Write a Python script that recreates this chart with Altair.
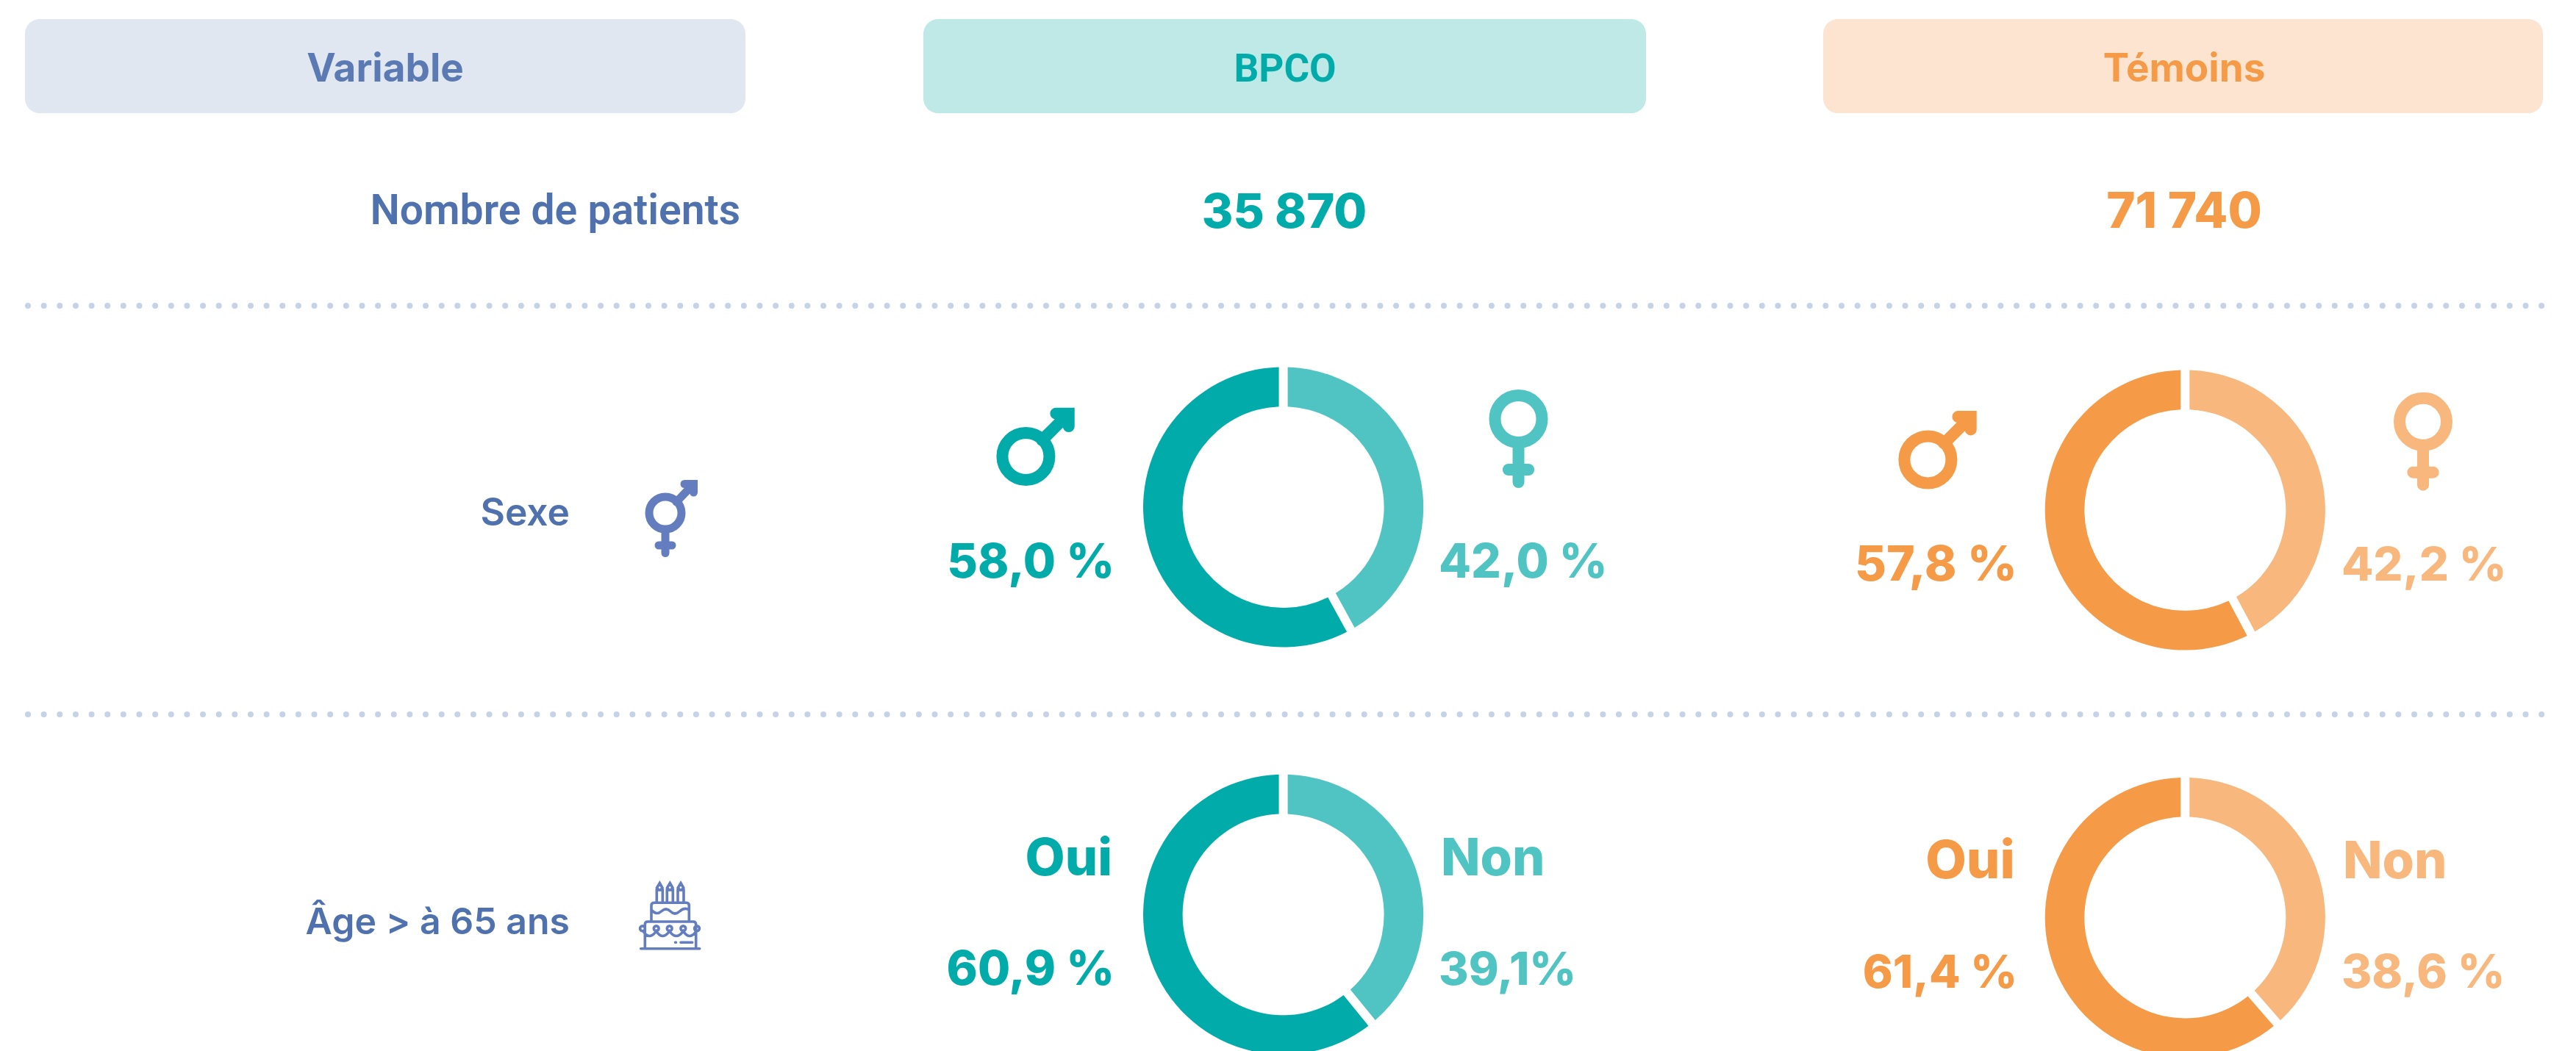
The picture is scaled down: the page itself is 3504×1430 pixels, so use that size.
import math
import altair as alt
import pandas as pd

# ---- values ----
COLUMNS = ["Variable", "BPCO", "Témoins"]
ROW_LABELS = ["Nombre de patients", "Sexe", "Âge > à 65 ans"]
PATIENTS = ["35 870", "71 740"]
SEX_PARTS = {"BPCO": [42.0, 58.0], "Témoins": [42.2, 57.8]}
AGE_PARTS = {"BPCO": [39.1, 60.9], "Témoins": [38.6, 61.4]}
SEX_LABELS = {"BPCO": ["42,0 %", "58,0 %"], "Témoins": ["42,2 %", "57,8 %"]}
AGE_LABELS = {"BPCO": ["39,1%", "60,9 %"], "Témoins": ["38,6 %", "61,4 %"]}
AGE_WORDS = ["Non", "Oui"]

# ---- styling ----
BLUE_TEXT = "#4F71AD"
BLUE_HEAD = "#5B7AB4"
ICON_BLUE = "#647DBE"
BLUE_BG = "#E1E7F1"
DOT = "#C6D3E7"
TEAL, TEAL_LIGHT, TEAL_BG = "#00ABA9", "#50C4C3", "#BFE9E7"
ORANGE, ORANGE_LIGHT, ORANGE_BG = "#F59A46", "#F7B77D", "#FCE4D1"

HEAD_FONT = "Inter"
NARROW_FONT = "Roboto"
NUM_FONT = "Inter"
W, H = 3504, 1430
M = 8


def px(v):
    return v - M


layers = []


def text(label, x, y, color, size, align="center", font=NUM_FONT, weight=800):
    layers.append(
        alt.Chart(pd.DataFrame({"label": [label]}))
        .mark_text(font=font, fontSize=size, fontWeight=weight, align=align,
                   baseline="alphabetic", color=color)
        .encode(text="label:N", x=alt.value(px(x)), y=alt.value(px(y)))
    )


def header(x0, x1, fill, label, color, tx, size, font=HEAD_FONT):
    layers.append(
        alt.Chart(pd.DataFrame({"label": [label]}))
        .mark_rect(color=fill, cornerRadius=20)
        .encode(x=alt.value(px(x0)), x2=alt.value(px(x1)),
                y=alt.value(px(26)), y2=alt.value(px(154)))
    )
    text(label, tx, 110.7, color, size, font=font, weight=700)


def dotted(y):
    layers.append(
        alt.Chart(pd.DataFrame({"row": [y]}))
        .mark_rule(color=DOT, strokeWidth=8, strokeCap="round", strokeDash=[0.01, 21.63])
        .encode(x=alt.value(px(38)), x2=alt.value(px(3460)), y=alt.value(px(y)))
    )


def donut(group, parts, cx, cy):
    start, rows = 0.0, []
    for i, v in enumerate(parts):
        rows.append({"part": f"{group} {i}", "start": start, "end": start + v})
        start += v
    layers.append(
        alt.Chart(pd.DataFrame(rows))
        .mark_arc(innerRadius=137, outerRadius=190.6, padAngle=0.0512)
        .encode(
            theta=alt.Theta("start:Q", scale=alt.Scale(domain=[0, 100], range=[0, 2 * math.pi])),
            theta2="end:Q",
            color=alt.Color(
                "part:N",
                legend=None,
                scale=alt.Scale(
                    domain=["BPCO 0", "BPCO 1", "Témoins 0", "Témoins 1"],
                    range=[TEAL_LIGHT, TEAL, ORANGE_LIGHT, ORANGE],
                ),
            ),
            x=alt.value(px(cx)),
            y=alt.value(px(cy)),
        )
    )


def ring(r, cx=0.0, cy=0.0):
    return (f"M{cx + r},{cy}A{r},{r} 0 1,0 {cx - r},{cy}"
            f"A{r},{r} 0 1,0 {cx + r},{cy}Z")


MALE = ring(32) + "M22,-22L58.3,-58.3M41,-58.3H58.3V-41"
FEMALE = ring(32) + "M0,32V86M-13.6,69H13.6"
BOTH = (ring(22) + "M15,-15L38.5,-39.5M26,-39.5H38.5V-28"
        "M0,22V54.5M-9,44H9")
CAKE = (
    "M21.7,110.7H101.7"
    "M27.3,110.7V78Q27.3,74 31,74H93Q96.7,74 96.7,78V110.7"
    "M36,74V52Q36,48.3 40,48.3H83.3Q87.3,48.3 87.3,52V74"
    "M36,58Q43,66 49.5,60T62,60T74.5,60T87.3,58"
    + ring(3.4, 24, 83.3) + ring(3.4, 42.7, 83.3) + ring(3.4, 60.7, 83.3)
    + ring(3.4, 79.3, 83.3) + ring(3.4, 98, 83.3)
    + "M25,87Q33,100 42.7,87Q51,100 60.7,87Q70,100 79.3,87Q88,100 97,87"
    + "M43.3,48.3V31H51.3V48.3M57.3,48.3V31H65.3V48.3M72,48.3V31H80V48.3"
    + "M47.3,21.5L51,28Q47.3,34 43.5,28ZM61.3,21.5L65,28Q61.3,34 57.5,28Z"
    + "M76,21.5L79.7,28Q76,34 72.2,28Z"
    + "M68.5,102.3H69.5M76,102.3H91.7"
)


def icon(path, x, y, color, width):
    layers.append(
        alt.Chart(pd.DataFrame({"icon": [0]}))
        .mark_point(shape=path, size=4, filled=False, stroke=color, strokeWidth=width,
                    strokeCap="round", strokeJoin="miter", opacity=1)
        .encode(x=alt.value(px(x)), y=alt.value(px(y)))
    )


# headers
header(34, 1014, BLUE_BG, COLUMNS[0], BLUE_HEAD, 524, 53)
header(1256, 2239, TEAL_BG, COLUMNS[1], TEAL, 1748, 53, NARROW_FONT)
header(2480, 3459, ORANGE_BG, COLUMNS[2], ORANGE, 2971, 53)

# row: patients
text(ROW_LABELS[0], 1007, 305, BLUE_TEXT, 57, "right", NARROW_FONT, 600)
text(PATIENTS[0], 1747, 310, TEAL, 65)
text(PATIENTS[1], 2971, 310, ORANGE, 67)
dotted(416)

# left and right anchors of the donut labels
L_B, R_B, L_T, R_T = 1516, 1957, 2744, 3185

# row: sex
text(ROW_LABELS[1], 775, 715, BLUE_TEXT, 51.5, "right", HEAD_FONT, 600)
icon(BOTH, 905, 698, ICON_BLUE, 11)
donut("BPCO", SEX_PARTS["BPCO"], 1745.6, 690)
donut("Témoins", SEX_PARTS["Témoins"], 2972.3, 694)
icon(MALE, 1395.4, 621, TEAL, 16)
icon(FEMALE, 2065.5, 570, TEAL_LIGHT, 16)
icon(MALE, 2622.4, 625.4, ORANGE, 16)
icon(FEMALE, 3296, 573.7, ORANGE_LIGHT, 16)
text(SEX_LABELS["BPCO"][1], L_B, 786, TEAL, 64, "right")
text(SEX_LABELS["BPCO"][0], R_B, 786, TEAL_LIGHT, 64, "left")
text(SEX_LABELS["Témoins"][1], L_T, 790, ORANGE, 66, "right")
text(SEX_LABELS["Témoins"][0], R_T, 790, ORANGE_LIGHT, 63, "left")
dotted(972)

# row: age
text(ROW_LABELS[2], 775, 1271, BLUE_TEXT, 50, "right", HEAD_FONT, 600)
icon(CAKE, 850, 1180, ICON_BLUE, 3.6)
donut("BPCO", AGE_PARTS["BPCO"], 1745.6, 1244.3)
donut("Témoins", AGE_PARTS["Témoins"], 2972.3, 1248.4)
text(AGE_WORDS[1], L_B - 3, 1191, TEAL, 70, "right")
text(AGE_WORDS[0], R_B + 3, 1191, TEAL_LIGHT, 70, "left")
text(AGE_LABELS["BPCO"][1], L_B, 1340, TEAL, 64, "right")
text(AGE_LABELS["BPCO"][0], R_B, 1340, TEAL_LIGHT, 62, "left")
text(AGE_WORDS[1], L_T - 3, 1195, ORANGE, 72, "right")
text(AGE_WORDS[0], R_T + 2, 1195, ORANGE_LIGHT, 70, "left")
text(AGE_LABELS["Témoins"][1], L_T, 1344, ORANGE, 62, "right")
text(AGE_LABELS["Témoins"][0], R_T, 1344, ORANGE_LIGHT, 63, "left")

chart = (
    alt.layer(*layers)
    .properties(
        width=W - 2 * M,
        height=H - M,
        padding=0,
        autosize=alt.AutoSizeParams(type="none"),
        background="white",
    )
    .configure_view(stroke=None)
)
chart.save("out.html", embed_options={"renderer": "svg", "actions": False})
